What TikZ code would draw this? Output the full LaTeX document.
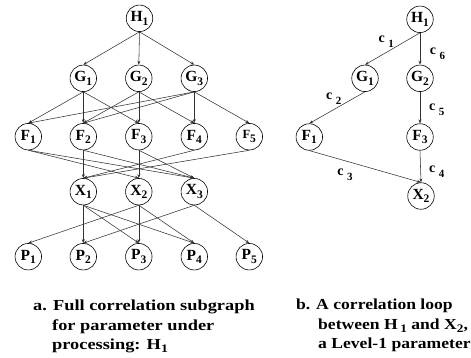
\documentclass[tikz,border=0pt]{standalone}
\usepackage{fontspec}
\setmainfont{Liberation Serif}
\newfontfamily\capAfont{Liberation Serif}[FakeStretch=1.2]
\newfontfamily\capBfont{Liberation Serif}[FakeStretch=1.15]
\usetikzlibrary{arrows.meta}
\newcommand\nsub[1]{\raisebox{-3.5pt}{\fontsize{11.5}{11.5}\selectfont #1}}
\newcommand\csub[1]{\hspace{3.5pt}\raisebox{-5pt}{\fontsize{11}{11}\selectfont #1}}
\begin{document}
\begin{tikzpicture}[x=1pt,y=-1pt,
  pnode/.style={circle,draw,line width=0.6pt,minimum size=26.5pt,inner sep=0pt,
    font=\fontsize{15.5}{15.5}\selectfont\bfseries},
  conn/.style={line width=0.55pt,draw=black!80,-{Stealth[length=4pt,width=3pt]}},
  lab/.style={inner sep=0pt,font=\fontsize{14}{14}\selectfont\bfseries},
  capA/.style={inner sep=0pt,anchor=base west,font=\capAfont\fontsize{15.3}{15.3}\selectfont\bfseries},
  capB/.style={inner sep=0pt,anchor=base west,font=\capBfont\fontsize{15.3}{15.3}\selectfont\bfseries}]
\useasboundingbox (0,0) rectangle (471,357);
% ---- left graph ----
\node[pnode] (lH1) at (139.5,18.3) {H\nsub{1}};
\node[pnode] (lG1) at (83.3,78.3) {G\nsub{1}};
\node[pnode] (lG2) at (138.8,78.3) {G\nsub{2}};
\node[pnode] (lG3) at (194.3,78.3) {G\nsub{3}};
\node[pnode] (lF1) at (28.3,136.7) {F\nsub{1}};
\node[pnode] (lF2) at (83.3,136.7) {F\nsub{2}};
\node[pnode] (lF3) at (138.8,136.7) {F\nsub{3}};
\node[pnode] (lF4) at (194.3,136.7) {F\nsub{4}};
\node[pnode] (lF5) at (249.3,136.7) {{\fontsize{12.5}{12.5}\selectfont F}\nsub{5}};
\node[pnode] (lX1) at (83.3,191.7) {X\nsub{1}};
\node[pnode] (lX2) at (138.8,191.7) {X\nsub{2}};
\node[pnode] (lX3) at (194.3,191.7) {X\nsub{3}};
\node[pnode] (lP1) at (28.3,256.7) {P\nsub{1}};
\node[pnode] (lP2) at (83.3,256.7) {P\nsub{2}};
\node[pnode] (lP3) at (138.8,256.7) {P\nsub{3}};
\node[pnode] (lP4) at (194.3,256.7) {P\nsub{4}};
\node[pnode] (lP5) at (249.3,256.7) {P\nsub{5}};
\foreach \a/\b in {lH1/lG1,lH1/lG2,lH1/lG3,
  lG1/lF1,lG1/lF2,lG1/lF3,
  lG2/lF2,lG2/lF3,lG2/lF4,
  lG3/lF1,lG3/lF2,lG3/lF4,lG3/lF5,
  lF1/lX2,lF1/lX3,lF2/lX1,lF2/lX3,lF3/lX2,lF3/lX3,lF4/lX1,lF5/lX1,
  lX1/lP2,lX1/lP3,lX1/lP4,lX2/lP1,lX2/lP3,lX2/lP4,lX3/lP2,lX3/lP5}
  \draw[conn] (\a.south) -- (\b.north);
% ---- right graph ----
\node[pnode] (rH1) at (420,19.3) {H\nsub{1}};
\node[pnode] (rG1) at (365,78.3) {G\nsub{1}};
\node[pnode] (rG2) at (420,78.3) {G\nsub{2}};
\node[pnode] (rF1) at (309.3,137) {F\nsub{1}};
\node[pnode] (rF3) at (420,137) {F\nsub{3}};
\node[pnode] (rX2) at (421,196) {X\nsub{2}};
\foreach \a/\b in {rH1/rG1,rH1/rG2,rG1/rF1,rG2/rF3,rF1/rX2,rF3/rX2}
  \draw[conn] (\a.south) -- (\b.north);
\node[lab] (c1) at (386.3,41.3) {c\csub{1}};
\node[lab] (c6) at (437.5,53.7) {c\csub{6}};
\node[lab] (c2) at (333.7,98.7) {c\csub{2}};
\node[lab] (c5) at (436.7,110) {c\csub{5}};
\node[lab] (c3) at (345,174.5) {c\csub{3}};
\node[lab] (c4) at (436.7,171.7) {c\csub{4}};
% ---- captions ----
\node[capA] (ca1) at (33,310) {a. Full correlation subgraph};
\node[capA] (ca2) at (52,330) {for parameter under};
\node[capA] (ca3) at (52,349) {processing: H\nsub{1}};
\node[capB] (cb1) at (296,309) {b. A correlation loop};
\node[capB] (cb2) at (318,329) {between H\,\nsub{1} and X\nsub{2},};
\node[capB] (cb3) at (318,348) {a Level-1 parameter};
\end{tikzpicture}
\end{document}
